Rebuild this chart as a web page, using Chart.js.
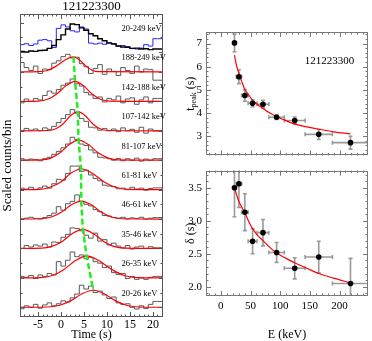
<!DOCTYPE html>
<html>
<head>
<meta charset="utf-8">
<script src="https://cdn.jsdelivr.net/npm/chart.js@4.4.1/dist/chart.umd.min.js"></script>
<style>
  html, body { margin: 0; padding: 0; background: #fff; }
  #wrap { position: relative; width: 372px; height: 341px; overflow: hidden; }
  canvas { position: absolute; }
</style>
</head>
<body>
<div id="wrap">
  <canvas id="lc" width="167" height="341" style="left:0;top:0"></canvas>
  <canvas id="tp" width="187" height="166" style="left:185px;top:0"></canvas>
  <canvas id="dl" width="187" height="181" style="left:185px;top:160px"></canvas>
</div>
<script>
// ---- data ---------------------------------------------------------------
const GRB_NAME = '121223300';

// energy bands (keV), low to high
const BAND_LO = [20, 26, 35, 46, 61, 81, 107, 142, 188];
const BAND_HI = [26, 35, 46, 61, 81, 107, 142, 188, 249];

// peak time and width per band
const T_PEAK = [7.03, 5.57, 4.76, 4.42, 4.38, 3.82, 3.68, 3.08, 2.72];
const T_PEAK_ERR = [0.38, 0.30, 0.25, 0.15, 0.17, 0.10, 0.15, 0.22, 0.28];
const DELTA = [3.50, 3.56, 3.13, 2.69, 2.82, 2.52, 2.28, 2.45, 2.05];
const DELTA_ERR = [0.44, 0.36, 0.28, 0.19, 0.20, 0.15, 0.16, 0.24, 0.38];

// power-law fits vs energy
const FIT_E = [23, 26, 30, 35, 40, 47, 53.5, 62, 71, 82, 94, 110, 125, 145, 165, 190, 218];
const FIT_T_PEAK = [6.5, 6.1, 5.75, 5.38, 5.05, 4.78, 4.55, 4.36, 4.2, 4.01, 3.85, 3.67, 3.52, 3.4, 3.3, 3.19, 3.1];
const FIT_DELTA = [3.5, 3.41, 3.3, 3.21, 3.13, 2.99, 2.88, 2.78, 2.70, 2.60, 2.51, 2.43, 2.36, 2.28, 2.2, 2.13, 2.06];

// light curves: 1 s bins starting at t = -9 s, scaled counts
const LC_T0 = -9;
const LC_BIN = 1;
const LC_ALL = [0.0, 0.02, 0.0, 0.03, 0.02, 0.05, 0.06, 0.12, 0.22, 0.42, 0.58, 0.78, 0.95, 0.93, 0.82, 0.74, 0.62, 0.55, 0.45, 0.38, 0.3, 0.27, 0.2, 0.17, 0.16, 0.12, 0.13, 0.1, 0.11, 0.08, 0.1];
const LC_ALL_B = [0.5, 0.25, 0.28, 0.22, 0.27, 0.4, 0.42, 0.38, 0.15, 0.8, 0.92, 0.85, 0.72, 0.68, 0.85, 0.78, 0.3, 0.27, 0.3, 0.26, 0.32, 0.28, 0.2, 0.22, 0.18, 0.12, 0.1, 0.13, 0.25, 0.2, 0.45];
const LC_20_26 = [0.02, -0.05, 0.05, 0.0, 0.1, -0.03, 0.08, 0.15, 0.05, 0.12, 0.22, 0.18, 0.32, 0.45, 0.75, 0.62, 0.72, 0.5, 0.55, 0.42, 0.3, 0.35, 0.15, 0.1, 0.12, 0.0, -0.06, 0.05, -0.04, 0.1, 0.2];
const LC_26_35 = [0.0, 0.05, 0.02, 0.08, -0.02, 0.1, 0.05, 0.15, 0.1, 0.55, 0.4, 0.6, 0.88, 0.72, 0.78, 0.65, 0.7, 0.55, 0.5, 0.35, 0.4, 0.18, 0.12, 0.15, -0.02, 0.05, -0.05, 0.0, -0.05, 0.02, 0.05];
const LC_35_46 = [0.02, 0.0, 0.1, 0.05, 0.12, 0.08, 0.15, 0.05, 0.22, 0.2, 0.38, 0.48, 0.7, 0.68, 0.6, 0.45, 0.35, 0.52, 0.25, 0.3, 0.12, 0.18, 0.08, 0.02, 0.1, -0.02, 0.05, 0.08, 0.0, 0.06, 0.02];
const LC_46_61 = [0.05, 0.0, 0.03, 0.06, 0.02, 0.0, 0.05, 0.12, 0.2, 0.42, 0.3, 0.52, 0.6, 0.82, 0.6, 0.5, 0.45, 0.32, 0.25, 0.12, 0.1, 0.05, 0.03, 0.06, 0.0, 0.04, 0.02, 0.06, 0.0, 0.03, 0.05];
const LC_61_81 = [0.0, 0.05, 0.02, 0.08, 0.0, 0.06, 0.12, 0.05, 0.2, 0.35, 0.32, 0.55, 0.8, 0.8, 0.62, 0.66, 0.5, 0.38, 0.3, 0.15, 0.12, 0.1, 0.03, 0.05, 0.0, 0.08, 0.02, 0.05, -0.02, 0.04, 0.06];
const LC_81_107 = [0.02, 0.05, 0.0, 0.04, 0.02, -0.02, 0.05, 0.1, 0.2, 0.3, 0.42, 0.55, 0.78, 0.7, 0.55, 0.5, 0.35, 0.25, 0.1, 0.08, 0.05, 0.0, 0.06, -0.02, 0.05, 0.0, 0.07, -0.03, 0.04, 0.0, 0.05];
const LC_107_142 = [0.03, 0.0, 0.08, 0.02, 0.06, 0.0, 0.1, 0.05, 0.15, 0.28, 0.42, 0.55, 0.72, 0.6, 0.42, 0.32, 0.12, 0.1, 0.02, 0.08, 0.0, 0.06, -0.03, 0.1, 0.0, 0.05, -0.05, 0.12, -0.08, 0.06, 0.0];
const LC_142_188 = [0.02, -0.05, 0.08, 0.0, 0.1, 0.05, 0.2, 0.35, 0.28, 0.4, 0.55, 0.62, 0.76, 0.6, 0.52, 0.3, 0.22, 0.1, 0.15, -0.02, 0.1, 0.05, 0.18, -0.05, 0.08, 0.12, -0.1, 0.05, 0.15, -0.05, 0.1];
const LC_188_249 = [0.1, 0.32, 0.15, 0.05, 0.2, -0.05, 0.1, 0.08, 0.3, 0.38, 0.52, 0.6, 0.48, 0.5, 0.28, 0.18, -0.05, 0.12, 0.25, -0.08, 0.1, 0.02, -0.12, 0.15, 0.05, -0.05, 0.2, 0.0, 0.1, 0.08, -0.28];

// pulse fits per band: sample times (s) and scaled counts
const FIT_T_20_26 = [-9, -3, -0.5, 2, 4.5, 7, 9.5, 12, 14.5, 17, 22];
const FIT_20_26 = [0, 0.01, 0.06, 0.21, 0.45, 0.58, 0.45, 0.21, 0.06, 0.01, 0];
const FIT_T_26_35 = [-9, -4.4, -1.9, 0.6, 3.1, 5.6, 8.3, 11.1, 13.8, 16.6, 22];
const FIT_26_35 = [0, 0.01, 0.08, 0.28, 0.58, 0.75, 0.58, 0.28, 0.08, 0.01, 0];
const FIT_T_35_46 = [-9, -4.2, -2, 0.3, 2.5, 4.8, 7, 9.3, 11.5, 13.8, 22];
const FIT_35_46 = [0, 0.01, 0.07, 0.24, 0.51, 0.65, 0.51, 0.24, 0.07, 0.01, 0];
const FIT_T_46_61 = [-9, -4.6, -2.3, 0, 2.2, 4.4, 6.7, 8.9, 11.2, 13.4, 22];
const FIT_46_61 = [0, 0.01, 0.06, 0.22, 0.48, 0.61, 0.48, 0.22, 0.06, 0.01, 0];
const FIT_T_61_81 = [-9, -4.6, -2.4, 0, 2.1, 4.4, 6.9, 9.4, 11.9, 14.4, 22];
const FIT_61_81 = [0, 0.01, 0.08, 0.26, 0.55, 0.71, 0.55, 0.26, 0.08, 0.01, 0];
const FIT_T_81_107 = [-9, -4.2, -2.2, -0.2, 1.8, 3.8, 6, 8.1, 10.3, 12.4, 22];
const FIT_81_107 = [0, 0.01, 0.07, 0.25, 0.53, 0.68, 0.53, 0.25, 0.07, 0.01, 0];
const FIT_T_107_142 = [-9, -2.7, -1.1, 0.5, 2.1, 3.7, 5.3, 6.9, 8.5, 10.1, 22];
const FIT_107_142 = [0, 0.01, 0.07, 0.24, 0.51, 0.65, 0.51, 0.24, 0.07, 0.01, 0];
const FIT_T_142_188 = [-9, -4.9, -2.9, -0.9, 1.1, 3.1, 4.9, 6.8, 8.6, 10.5, 22];
const FIT_142_188 = [0, 0.01, 0.07, 0.25, 0.53, 0.68, 0.53, 0.25, 0.07, 0.01, 0];
const FIT_T_188_249 = [-9, -4.9, -3, -1.1, 0.8, 2.7, 4.1, 5.5, 6.9, 8.3, 22];
const FIT_188_249 = [0, 0.01, 0.05, 0.19, 0.4, 0.51, 0.4, 0.19, 0.05, 0.01, 0];

// ---- layout -------------------------------------------------------------
const SERIF = 'Liberation Serif';
const TOP_BASE = 8.68;        // baseline of the summed light curve strip
const LABEL_T = 13.15;        // time where band labels start
Chart.defaults.font.family = SERIF;
Chart.defaults.color = '#000';

const bands = [
  { counts: LC_20_26, ft: FIT_T_20_26, fv: FIT_20_26 },
  { counts: LC_26_35, ft: FIT_T_26_35, fv: FIT_26_35 },
  { counts: LC_35_46, ft: FIT_T_35_46, fv: FIT_35_46 },
  { counts: LC_46_61, ft: FIT_T_46_61, fv: FIT_46_61 },
  { counts: LC_61_81, ft: FIT_T_61_81, fv: FIT_61_81 },
  { counts: LC_81_107, ft: FIT_T_81_107, fv: FIT_81_107 },
  { counts: LC_107_142, ft: FIT_T_107_142, fv: FIT_107_142 },
  { counts: LC_142_188, ft: FIT_T_142_188, fv: FIT_142_188 },
  { counts: LC_188_249, ft: FIT_T_188_249, fv: FIT_188_249 },
];

function steps(counts, base) {
  const pts = counts.map((c, i) => ({ x: LC_T0 + i * LC_BIN, y: base + c }));
  pts.push({ x: LC_T0 + counts.length * LC_BIN, y: base + counts[counts.length - 1] });
  return pts;
}

function tickList(min, max, minor, major, lenMinor, lenMajor) {
  const out = [];
  for (let k = Math.ceil(min / minor - 1e-9); k * minor <= max + 1e-9; k++) {
    const v = k * minor;
    const r = v / major;
    out.push({ value: v, len: Math.abs(r - Math.round(r)) < 1e-6 ? lenMajor : lenMinor });
  }
  return out;
}

// frame with inward ticks on all four sides
const frameTicks = {
  id: 'frameTicks',
  afterDatasetsDraw(chart, args, o) {
    const { ctx, chartArea: a } = chart;
    const xs = chart.scales.x, ys = chart.scales.y;
    ctx.save();
    ctx.strokeStyle = o.color;
    ctx.lineWidth = 1;
    ctx.beginPath();
    for (const t of o.xTicks) {
      const px = Math.round(xs.getPixelForValue(t.value)) + 0.5;
      if (px < a.left || px > a.right) continue;
      ctx.moveTo(px, a.bottom); ctx.lineTo(px, a.bottom - t.len);
      ctx.moveTo(px, a.top); ctx.lineTo(px, a.top + t.len);
    }
    for (const t of o.yTicks) {
      const py = Math.round(ys.getPixelForValue(t.value)) + 0.5;
      if (py < a.top || py > a.bottom) continue;
      ctx.moveTo(a.left, py); ctx.lineTo(a.left + t.len, py);
      ctx.moveTo(a.right, py); ctx.lineTo(a.right - t.len, py);
    }
    ctx.stroke();
    ctx.strokeRect(Math.round(a.left) + 0.5, Math.round(a.top) + 0.5,
                   Math.round(a.width) - 1, Math.round(a.height) - 1);
    ctx.restore();
  }
};

// text placed in data coordinates, plus optional headline above the frame
const panelText = {
  id: 'panelText',
  afterDraw(chart, args, o) {
    const { ctx, chartArea: a } = chart;
    const xs = chart.scales.x, ys = chart.scales.y;
    ctx.save();
    ctx.fillStyle = '#000';
    ctx.textBaseline = 'middle';
    for (const it of o.items || []) {
      ctx.font = it.size + 'px "' + SERIF + '"';
      ctx.textAlign = it.align || 'left';
      ctx.fillText(it.text, xs.getPixelForValue(it.x), ys.getPixelForValue(it.y));
    }
    if (o.headline) {
      ctx.font = o.headline.size + 'px "' + SERIF + '"';
      ctx.textAlign = 'center';
      ctx.fillText(o.headline.text, (a.left + a.right) / 2, a.top - o.headline.lift);
    }
    if (o.yTitleSub) {
      // rotated y title with a subscript
      const t = o.yTitleSub;
      const big = '12px "' + SERIF + '"', small = '8px "' + SERIF + '"';
      ctx.font = big; const w1 = ctx.measureText(t.main).width; const w3 = ctx.measureText(t.tail).width;
      ctx.font = small; const w2 = ctx.measureText(t.sub).width;
      const total = w1 + w2 + w3;
      ctx.translate(t.x, (a.top + a.bottom) / 2);
      ctx.rotate(-Math.PI / 2);
      ctx.textAlign = 'left';
      let x0 = -total / 2;
      ctx.font = big; ctx.fillText(t.main, x0, 0); x0 += w1;
      ctx.font = small; ctx.fillText(t.sub, x0, 3); x0 += w2;
      ctx.font = big; ctx.fillText(t.tail, x0, 0);
    }
    ctx.restore();
  }
};

// gray error bars drawn under the points
const errorBars = {
  id: 'errorBars',
  beforeDatasetsDraw(chart) {
    const { ctx, chartArea: a } = chart;
    const xs = chart.scales.x, ys = chart.scales.y;
    ctx.save();
    ctx.beginPath();
    ctx.rect(a.left, a.top, a.width, a.height);
    ctx.clip();
    ctx.strokeStyle = '#9a9a9a';
    ctx.lineWidth = 1.6;
    chart.data.datasets.forEach(ds => {
      if (!ds.errorBars) return;
      ds.data.forEach((p, i) => {
        const ex = ds.errorBars.x[i], ey = ds.errorBars.y[i];
        const x1 = xs.getPixelForValue(p.x - ex), x2 = xs.getPixelForValue(p.x + ex);
        const y1 = ys.getPixelForValue(p.y - ey), y2 = ys.getPixelForValue(p.y + ey);
        const px = xs.getPixelForValue(p.x), py = ys.getPixelForValue(p.y);
        ctx.beginPath();
        ctx.moveTo(x1, py); ctx.lineTo(x2, py);
        ctx.moveTo(x1, py - 2); ctx.lineTo(x1, py + 2);
        ctx.moveTo(x2, py - 2); ctx.lineTo(x2, py + 2);
        ctx.moveTo(px, y1); ctx.lineTo(px, y2);
        ctx.moveTo(px - 2, y1); ctx.lineTo(px + 2, y1);
        ctx.moveTo(px - 2, y2); ctx.lineTo(px + 2, y2);
        ctx.stroke();
      });
    });
    ctx.restore();
  }
};

const baseOpts = {
  responsive: false,
  animation: false,
  devicePixelRatio: 1,
  events: [],
  elements: { point: { radius: 0 } },
};

// ---- light curves -------------------------------------------------------
const lcSets = [];
lcSets.push({
  data: bands.map((b, i) => ({ x: T_PEAK[i], y: i + Math.max(...b.fv) })).reverse(),
  borderColor: '#22ee22', borderWidth: 2.5, borderDash: [6, 3], pointRadius: 0,
});
bands.forEach((b, i) => {
  lcSets.push({
    data: b.ft.map((t, j) => ({ x: t, y: i + b.fv[j] })),
    borderColor: '#ff0000', borderWidth: 1.2, cubicInterpolationMode: 'monotone', pointRadius: 0,
  });
});
bands.forEach((b, i) => {
  lcSets.push({ data: steps(b.counts, i), borderColor: '#5a5a5a', borderWidth: 1, stepped: 'after', pointRadius: 0 });
});
lcSets.push({ data: steps(LC_ALL, TOP_BASE), borderColor: '#000', borderWidth: 1.4, stepped: 'after', pointRadius: 0 });
lcSets.push({ data: steps(LC_ALL_B, TOP_BASE), borderColor: '#2626ff', borderWidth: 1, stepped: 'after', pointRadius: 0 });

const bandLabels = BAND_LO.map((lo, i) => ({ text: lo + '-' + BAND_HI[i] + ' keV', x: LABEL_T, y: i + 0.47, size: 8.5 }));
bandLabels.push({ text: BAND_LO[0] + '-' + BAND_HI[BAND_HI.length - 1] + ' keV', x: LABEL_T, y: TOP_BASE + 0.8, size: 8.5 });

const lcYTicks = [];
for (let i = 0; i < bands.length; i++) {
  lcYTicks.push({ value: i, len: 4 }, { value: i + 0.5, len: 2.5 });
}
lcYTicks.push({ value: TOP_BASE, len: 4 }, { value: TOP_BASE + 0.5, len: 2.5 }, { value: TOP_BASE + 1, len: 4 });

new Chart(document.getElementById('lc'), {
  type: 'line',
  data: { datasets: lcSets },
  options: {
    ...baseOpts,
    layout: { padding: { top: 14, right: 4, bottom: 0, left: 0 } },
    plugins: {
      legend: { display: false },
      tooltip: { enabled: false },
      frameTicks: { color: '#555', xTicks: tickList(-8.9, 22.2, 1, 5, 2.5, 5), yTicks: lcYTicks },
      panelText: { items: bandLabels, headline: { text: GRB_NAME, size: 13, lift: 7 } },
    },
    scales: {
      x: {
        type: 'linear', min: -8.9, max: 22.2,
        grid: { display: false, drawTicks: false }, border: { display: false },
        ticks: { stepSize: 5, includeBounds: false, autoSkip: false, maxRotation: 0, padding: 1, font: { size: 12 } },
        title: { display: true, text: 'Time (s)', font: { size: 12, lineHeight: 1.1 }, padding: 0 },
        afterFit: s => { s.height = 24; },
      },
      y: {
        type: 'linear', min: -0.33, max: 9.97,
        grid: { display: false, drawTicks: false }, border: { display: false },
        ticks: { display: false },
        title: { display: true, text: 'Scaled counts/bin', font: { size: 13, lineHeight: 1.2 }, padding: 0 },
        afterFit: s => { s.width = 20; },
      },
    },
  },
  plugins: [frameTicks, panelText],
});

// ---- peak time and width vs energy ---------------------------------------
const E_MID = BAND_LO.map((lo, i) => (lo + BAND_HI[i]) / 2);
const E_HALF = BAND_LO.map((lo, i) => (BAND_HI[i] - lo) / 2);

function pointSet(vals, errs) {
  return {
    data: E_MID.map((e, i) => ({ x: e, y: vals[i] })),
    errorBars: { x: E_HALF, y: errs },
    showLine: false, pointRadius: 2.8, pointBackgroundColor: '#000', pointBorderColor: '#000', borderWidth: 0,
  };
}
function fitSet(vals) {
  return {
    data: FIT_E.map((e, i) => ({ x: e, y: vals[i] })),
    borderColor: '#ff0000', borderWidth: 1.2, cubicInterpolationMode: 'monotone', pointRadius: 0,
  };
}

const eTicks = tickList(-25, 248, 10, 50, 2.5, 5);

new Chart(document.getElementById('tp'), {
  type: 'line',
  data: { datasets: [pointSet(T_PEAK, T_PEAK_ERR), fitSet(FIT_T_PEAK)] },
  options: {
    ...baseOpts,
    layout: { padding: { top: 32, right: 2, bottom: 3, left: 0 } },
    plugins: {
      legend: { display: false },
      tooltip: { enabled: false },
      frameTicks: { color: '#777', xTicks: eTicks, yTicks: tickList(2.17, 7.5, 0.2, 1, 2.5, 5) },
      panelText: {
        items: [{ text: GRB_NAME, x: 183, y: 6.23, size: 11, align: 'center' }],
        yTitleSub: { x: 6, main: 't', sub: 'peak', tail: ' (s)' },
      },
    },
    scales: {
      x: { type: 'linear', min: -25, max: 248, display: false },
      y: {
        type: 'linear', min: 2.17, max: 7.5,
        grid: { display: false, drawTicks: false }, border: { display: false },
        ticks: { stepSize: 1, includeBounds: false, padding: 4, font: { size: 11 } },
        afterFit: s => { s.width = 21; },
      },
    },
  },
  plugins: [errorBars, frameTicks, panelText],
});

new Chart(document.getElementById('dl'), {
  type: 'line',
  data: { datasets: [pointSet(DELTA, DELTA_ERR), fitSet(FIT_DELTA)] },
  options: {
    ...baseOpts,
    layout: { padding: { top: 3, right: 2, bottom: 0, left: 0 } },
    plugins: {
      legend: { display: false },
      tooltip: { enabled: false },
      frameTicks: { color: '#777', xTicks: eTicks, yTicks: tickList(1.86, 3.76, 0.1, 0.5, 2.5, 5) },
    },
    scales: {
      x: {
        type: 'linear', min: -25, max: 248,
        grid: { display: false, drawTicks: false }, border: { display: false },
        ticks: { stepSize: 50, includeBounds: false, autoSkip: false, maxRotation: 0, padding: 4, font: { size: 11 } },
        title: { display: true, text: 'E (keV)', font: { size: 12, lineHeight: 1 }, padding: 0 },
        afterFit: s => { s.height = 45; },
      },
      y: {
        type: 'linear', min: 1.86, max: 3.76,
        grid: { display: false, drawTicks: false }, border: { display: false },
        ticks: { stepSize: 0.5, includeBounds: false, padding: 4, font: { size: 11 }, callback: v => v.toFixed(1) },
        title: { display: true, text: 'δ (s)', font: { size: 12, lineHeight: 1 }, padding: 0 },
        afterFit: s => { s.width = 21; },
      },
    },
  },
  plugins: [errorBars, frameTicks],
});
</script>
</body>
</html>
